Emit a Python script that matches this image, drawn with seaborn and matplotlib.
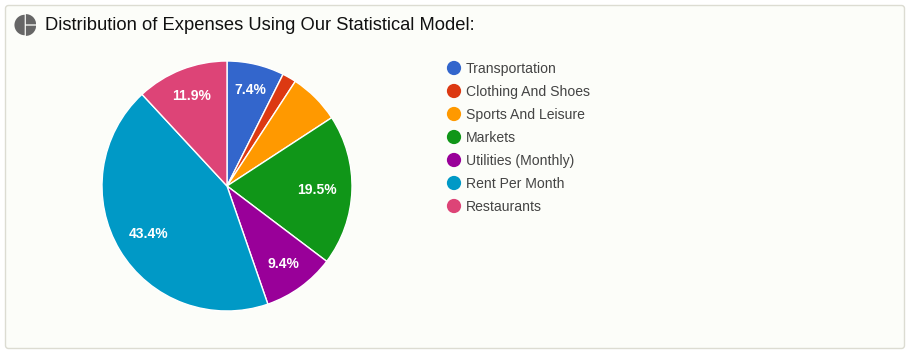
import matplotlib
matplotlib.use("Agg")
import matplotlib.pyplot as plt
from matplotlib.patches import FancyBboxPatch, Wedge
import numpy as np
import pandas as pd
import seaborn as sns

categories = ['Transportation', 'Clothing And Shoes', 'Sports And Leisure', 'Markets',
              'Utilities (Monthly)', 'Rent Per Month', 'Restaurants']
shares = [7.4, 1.8, 6.6, 19.5, 9.4, 43.4, 11.9]
colors = ['#3366cc', '#dc3912', '#ff9900', '#109618', '#990099', '#0099c6', '#dd4477']
title = 'Distribution of Expenses Using Our Statistical Model:'

W, H = 910, 355
PANEL = '#fcfdf9'

sns.set_theme(style='white')
plt.rcParams['font.family'] = ['Liberation Sans', 'DejaVu Sans']
palette = sns.color_palette(colors)


def px_axes(fig, left, top, width, height):
    # axes placed using pixel values measured from the top left
    return fig.add_axes([left / W, 1 - (top + height) / H, width / W, height / H])


fig = plt.figure(figsize=(W / 100, H / 100), dpi=100, facecolor='white')

# panel + title
bg = px_axes(fig, 0, 0, W, H)
bg.set_xlim(0, W); bg.set_ylim(H, 0); bg.axis('off')
bg.add_patch(FancyBboxPatch((5.5, 5.5), 899, 343, boxstyle='round,pad=0,rounding_size=3',
                            fc=PANEL, ec='#dcdcd2', lw=1))
bg.text(45, 30, title, fontsize=13.2, color='#111111', va='baseline', ha='left')

# little pie icon
ic = px_axes(fig, 14, 14, 22, 22)
ic.set_xlim(-1, 1); ic.set_ylim(-1, 1); ic.set_aspect('equal'); ic.axis('off')
ic.add_patch(Wedge((-0.03, 0), 0.93, 90, 270, fc='#666666', ec='none'))
ic.add_patch(Wedge((0.08, 0.06), 0.93, 0, 90, fc='#666666', ec='none'))
ic.add_patch(Wedge((0.08, -0.06), 0.93, 270, 360, fc='#666666', ec='none'))

# pie
ax = px_axes(fig, 227 - 126, 186 - 126, 252, 252)
wedges, texts, autotexts = ax.pie(
    shares, colors=palette, startangle=90, counterclock=False, radius=125 / 126,
    wedgeprops={'edgecolor': 'white', 'linewidth': 1},
    autopct=lambda p: '%.1f%%' % p if p > 7 else '',
    textprops={'color': 'white', 'fontsize': 10, 'fontweight': 'bold'})
ax.set_xlim(-1, 1); ax.set_ylim(-1, 1)

# labels don't sit on one ring in the original, pull each one to its own radius
label_radius = [0.795, 0.7, 0.7, 0.715, 0.76, 0.725, 0.775]
for w, t, r in zip(wedges, autotexts, label_radius):
    a = np.deg2rad((w.theta1 + w.theta2) / 2)
    t.set_position((r * np.cos(a), r * np.sin(a) - 0.008))
    t.set_va('center')

# legend drawn as a categorical scatter
lg = px_axes(fig, 440, 56.5, 180, 161)
legend_df = pd.DataFrame({'x': [0] * len(categories), 'category': categories})
sns.scatterplot(data=legend_df, x='x', y='category', hue='category', palette=palette,
                hue_order=categories, s=105, linewidth=0, legend=False, clip_on=False, ax=lg)
lg.set_xlim(-14, 166)
lg.set_ylim(len(categories) - 0.5, -0.5)
lg.axis('off')
for i, name in enumerate(categories):
    lg.text(12, i + 0.21, name, fontsize=10.05, color='#444444', va='baseline', ha='left')

fig.savefig('out.png', dpi=100, facecolor='white')
